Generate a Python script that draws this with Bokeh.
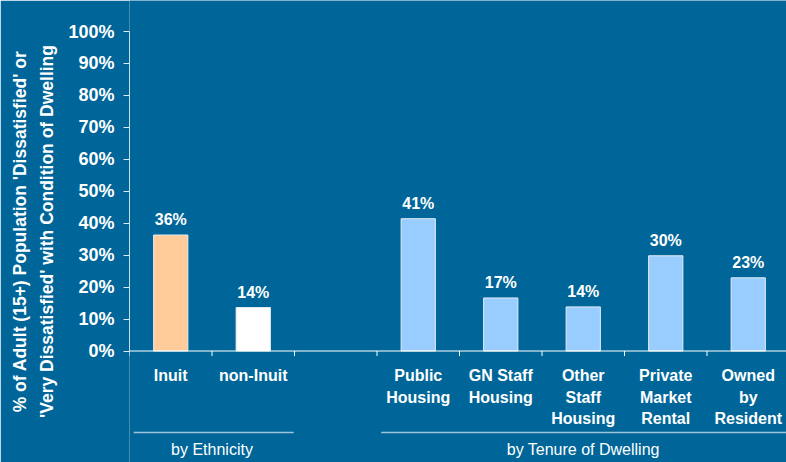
import math
from bokeh.plotting import figure
from bokeh.models import Range1d, FixedTicker, PrintfTickFormatter, Span, ColumnDataSource
from bokeh.core.properties import value
from bokeh.embed import file_html
from bokeh.resources import INLINE

# ---- data ----
categories = ["Inuit", "non-Inuit", "Public\nHousing", "GN Staff\nHousing",
              "Other\nStaff\nHousing", "Private\nMarket\nRental", "Owned\nby\nResident"]
category_group = [0, 0, 1, 1, 1, 1, 1]
groups = ["by Ethnicity", "by Tenure of Dwelling"]
group_sizes = [2, 5]
values = [36.3, 13.6, 41.4, 16.6, 13.8, 29.8, 22.9]
y_ticks = [0, 10, 20, 30, 40, 50, 60, 70, 80, 90, 100]
y_title = "% of Adult (15+) Population 'Dissatisfied' or\n'Very Dissatisfied' with Condition of Dwelling"

# ---- style / layout ----
BG = "#006699"
FONT = "Liberation Sans"
bar_colors = ["#FFCC99", "#FFFFFF", "#99CCFF", "#99CCFF", "#99CCFF", "#99CCFF", "#99CCFF"]
W, H = 786, 462
FRAME_LEFT = 129
PX = 3.195          # pixels per percentage unit
SLOT = 82.5         # pixels per category slot
y_top = 100 + 31 / PX
y_bot = -(H - 350.5) / PX
x_end = (W - FRAME_LEFT) / SLOT

# slot positions (gap of one slot between groups)
slots = [i + g for i, g in enumerate(category_group)]
xc = [s + 0.5 for s in slots]
n_slots = sum(group_sizes) + len(groups) - 1

p = figure(width=W, height=H, output_backend="svg", toolbar_location=None,
           x_range=Range1d(0, x_end), y_range=Range1d(y_bot, y_top),
           x_axis_location=None, min_border_left=FRAME_LEFT, min_border_right=0,
           min_border_top=0, min_border_bottom=0)
p.background_fill_color = BG
p.border_fill_color = BG
p.outline_line_color = None
p.grid.visible = False

ya = p.yaxis[0]
ya.ticker = FixedTicker(ticks=y_ticks, minor_ticks=[])
ya.formatter = PrintfTickFormatter(format="%d%%")
ya.bounds = (0, 100)
ya.axis_line_color = "#C8DCEA"
ya.major_tick_line_color = "#E0ECF4"
ya.major_tick_out = 6
ya.major_tick_in = 0
ya.minor_tick_out = 0
ya.major_label_standoff = 9
ya.major_label_text_font = FONT
ya.major_label_text_font_style = "bold"
ya.major_label_text_font_size = "18px"
ya.major_label_text_color = "white"
ya.axis_label = y_title
ya.axis_label_text_font = FONT
ya.axis_label_text_font_style = "bold"
ya.axis_label_text_font_size = "17.5px"
ya.axis_label_text_line_height = 1.35
ya.axis_label_text_color = "white"
ya.axis_label_standoff = 8

# x axis line at zero
p.add_layout(Span(location=0, dimension="width", line_color="white", line_width=1))

# boundary ticks below the zero line
bounds_x = list(range(0, n_slots + 1))
p.ray(x=bounds_x, y=[0] * len(bounds_x), length=5, length_units="screen",
      angle=-math.pi / 2, line_color="white", line_width=1)

# bars
src = ColumnDataSource(dict(x=xc, top=values, color=bar_colors,
                            label=["%d%%" % round(v) for v in values]))
p.vbar(x="x", top="top", bottom=0, width=0.415, fill_color="color",
       line_color="#E8EEF2", line_width=1, source=src)
p.text(x="x", y="top", text="label", source=src, text_align="center",
       text_baseline="bottom", y_offset=-7, text_color="white",
       text_font=value(FONT), text_font_style="bold", text_font_size="16px")

# category labels (multi-line)
lx, ly, lt, loff = [], [], [], []
for x, c in zip(xc, categories):
    for j, line in enumerate(c.split("\n")):
        lx.append(x); ly.append(0); lt.append(line); loff.append(16 + 21.7 * j)
p.text(x=lx, y=ly, text=lt, y_offset=loff, text_align="center", text_baseline="top",
       text_color="white", text_font=value(FONT), text_font_style="bold",
       text_font_size="16px")

# group underlines and labels
y_under = -81.5 / PX
g_start, g_end, g_center = [], [], []
s = 0
for size in group_sizes:
    g_start.append(s + 0.05)
    g_end.append(s + size - 0.01)
    g_center.append(s + size / 2)
    s += size + 1
p.segment(x0=g_start, x1=g_end, y0=[y_under] * len(groups), y1=[y_under] * len(groups),
          line_color="#9EC2DA", line_width=1.5)
p.text(x=g_center, y=[y_under] * len(groups), text=groups, y_offset=8,
       text_align="center", text_baseline="top", text_color="white",
       text_font=value(FONT), text_font_size="16px")

open("out.html", "w").write(file_html(p, INLINE))
